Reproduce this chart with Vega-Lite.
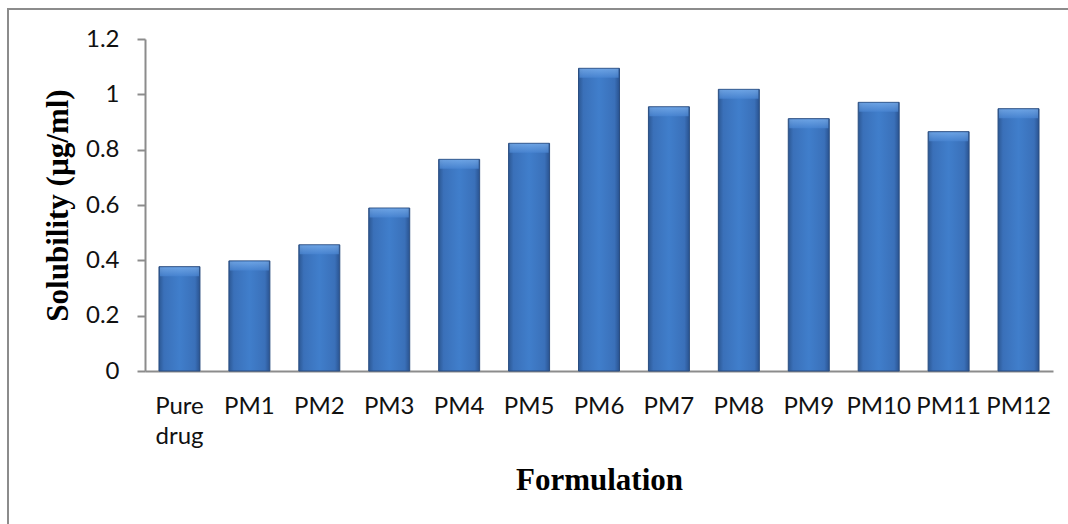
{
  "$schema": "https://vega.github.io/schema/vega-lite/v6.json",
  "width": 1068,
  "height": 524,
  "autosize": {"type": "none"},
  "padding": {"left": 8, "top": 9, "right": 0, "bottom": 0},
  "background": "white",
  "config": {
    "view": {"stroke": "#8c8c8c", "strokeWidth": 2},
    "axis": {
      "labelFont": "Lato",
      "labelFontSize": 24,
      "labelColor": "#111111",
      "titleFont": "Liberation Serif",
      "titleFontWeight": "bold",
      "titleFontSize": 31,
      "titleColor": "#000000",
      "domainColor": "#8c8c8c",
      "domainWidth": 2,
      "tickColor": "#8c8c8c",
      "tickWidth": 2,
      "grid": false
    }
  },
  "data": {
    "values": [
      {"formulation": "Pure drug", "solubility": 0.377},
      {"formulation": "PM1", "solubility": 0.398},
      {"formulation": "PM2", "solubility": 0.456},
      {"formulation": "PM3", "solubility": 0.589},
      {"formulation": "PM4", "solubility": 0.765},
      {"formulation": "PM5", "solubility": 0.823},
      {"formulation": "PM6", "solubility": 1.094},
      {"formulation": "PM7", "solubility": 0.955},
      {"formulation": "PM8", "solubility": 1.018},
      {"formulation": "PM9", "solubility": 0.912},
      {"formulation": "PM10", "solubility": 0.971},
      {"formulation": "PM11", "solubility": 0.865},
      {"formulation": "PM12", "solubility": 0.948}
    ]
  },
  "encoding": {
    "x": {
      "field": "formulation",
      "type": "nominal",
      "sort": null,
      "scale": {"range": [137, 1045], "paddingInner": 0.414, "paddingOuter": 0.2},
      "axis": {
        "title": "Formulation",
        "labelAngle": 0,
        "ticks": false,
        "tickSize": 0,
        "offset": -162,
        "labelPadding": 23,
        "labelLineHeight": 30,
        "labelExpr": "split(datum.label, ' ')",
        "titlePadding": 17
      }
    },
    "y": {
      "field": "solubility",
      "type": "quantitative",
      "scale": {"domain": [0, 1.2], "range": [362, 30], "nice": false},
      "axis": {
        "title": "Solubility (µg/ml)",
        "values": [0, 0.2, 0.4, 0.6, 0.8, 1, 1.2],
        "format": "~g",
        "tickSize": 8,
        "labelPadding": 18,
        "offset": -137,
        "titlePadding": 11
      }
    }
  },
  "layer": [
    {
      "mark": {
        "type": "bar",
        "stroke": "#2a4d80",
        "strokeWidth": 1,
        "fill": {
          "gradient": "linear",
          "x1": 0, "y1": 0, "x2": 1, "y2": 0,
          "stops": [
            {"offset": 0, "color": "#2c5894"},
            {"offset": 0.12, "color": "#3a70b9"},
            {"offset": 0.5, "color": "#407ecb"},
            {"offset": 0.88, "color": "#3a70b9"},
            {"offset": 1, "color": "#2a5390"}
          ]
        }
      }
    },
    {
      "mark": {
        "type": "tick",
        "size": 39,
        "thickness": 9,
        "yOffset": 5,
        "fill": {
          "gradient": "linear",
          "x1": 0, "y1": 0, "x2": 0, "y2": 1,
          "stops": [
            {"offset": 0, "color": "#7fb3ef"},
            {"offset": 1, "color": "#4a86d3"}
          ]
        }
      }
    }
  ]
}
